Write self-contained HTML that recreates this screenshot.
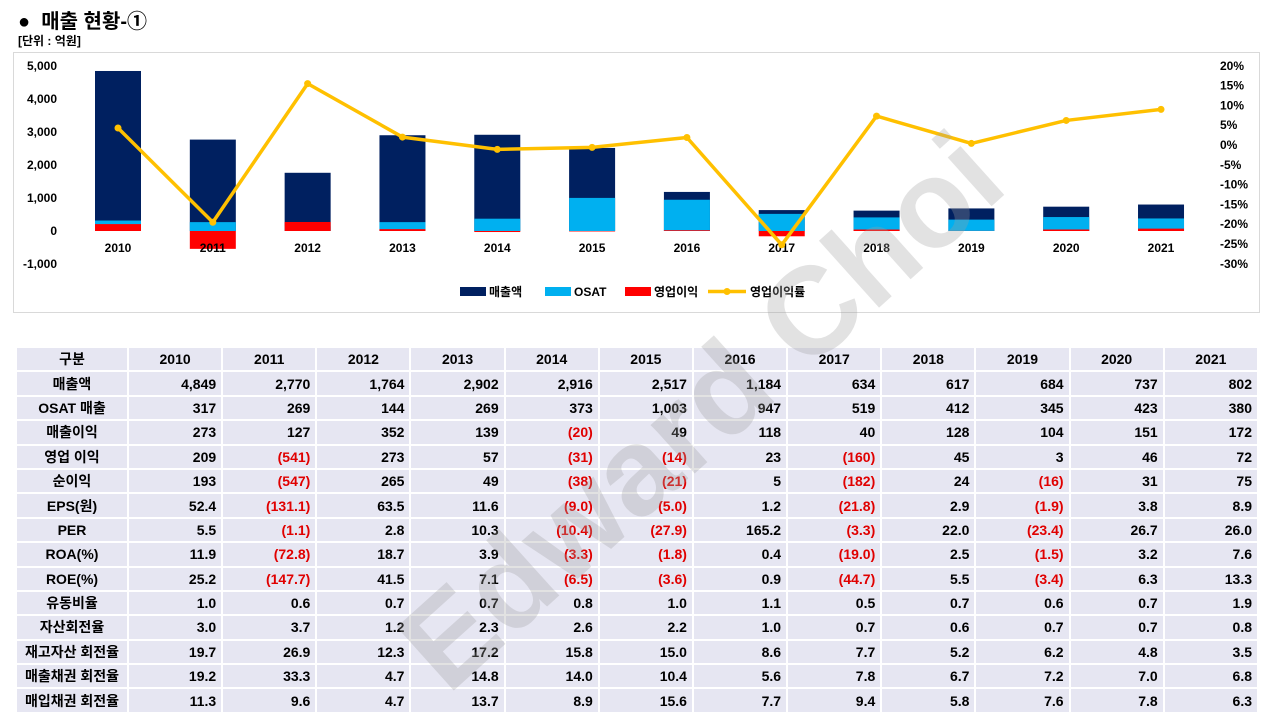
<!DOCTYPE html>
<html><head><meta charset="utf-8"><style>
body{margin:0;width:1280px;height:720px;background:#fff;position:relative;overflow:hidden;font-family:"Liberation Sans","Noto Sans CJK KR",sans-serif;}
#title{position:absolute;left:18px;top:5px;font-size:20px;font-weight:bold;}
#unit{position:absolute;left:18px;top:32px;font-size:12px;font-weight:bold;}
#chart{position:absolute;left:0;top:0;}
table{position:absolute;left:15px;top:346px;border-collapse:collapse;table-layout:fixed;width:1244px;}
td{background:#e6e6f2;border:2px solid #fff;height:22.4px;padding:0 5px;font-size:14px;font-weight:bold;text-align:right;line-height:18px;}
td:first-child{text-align:center;}
tr.h td{text-align:center;}
.n{color:#e00000;}
#wm{position:absolute;left:372px;top:612px;font-size:124px;font-weight:bold;color:rgba(160,160,160,0.3);transform:rotate(-42deg);transform-origin:left top;white-space:nowrap;pointer-events:none;}
</style></head><body>
<div id="title">●&nbsp; 매출 현황-①</div>
<div id="unit">[단위 : 억원]</div>
<svg id="chart" width="1280" height="340">
<rect x="13.5" y="52.5" width="1246" height="260" fill="#fff" stroke="#d9d9d9"/>
<g id="g"></g>
</svg>
<table>
<colgroup><col style="width:112px"></colgroup>
<tbody id="tb"></tbody></table>
<div id="wm">Edward Choi</div>
<script>
const years=[2010,2011,2012,2013,2014,2015,2016,2017,2018,2019,2020,2021];
const sales=[4849,2770,1764,2902,2916,2517,1184,634,617,684,737,802];
const osat=[317,269,144,269,373,1003,947,519,412,345,423,380];
const opInc=[209,-541,273,57,-31,-14,23,-160,45,3,46,72];
const opMargin=[4.3,-19.5,15.5,2.0,-1.1,-0.6,1.9,-25.2,7.3,0.4,6.2,9.0];
const leftTicks=[5000,4000,3000,2000,1000,0,-1000];
const rightTicks=[20,15,10,5,0,-5,-10,-15,-20,-25,-30];
const rows=[
["구분",...years.map(String)],
["매출액","4,849","2,770","1,764","2,902","2,916","2,517","1,184","634","617","684","737","802"],
["OSAT 매출","317","269","144","269","373","1,003","947","519","412","345","423","380"],
["매출이익","273","127","352","139","(20)","49","118","40","128","104","151","172"],
["영업 이익","209","(541)","273","57","(31)","(14)","23","(160)","45","3","46","72"],
["순이익","193","(547)","265","49","(38)","(21)","5","(182)","24","(16)","31","75"],
["EPS(원)","52.4","(131.1)","63.5","11.6","(9.0)","(5.0)","1.2","(21.8)","2.9","(1.9)","3.8","8.9"],
["PER","5.5","(1.1)","2.8","10.3","(10.4)","(27.9)","165.2","(3.3)","22.0","(23.4)","26.7","26.0"],
["ROA(%)","11.9","(72.8)","18.7","3.9","(3.3)","(1.8)","0.4","(19.0)","2.5","(1.5)","3.2","7.6"],
["ROE(%)","25.2","(147.7)","41.5","7.1","(6.5)","(3.6)","0.9","(44.7)","5.5","(3.4)","6.3","13.3"],
["유동비율","1.0","0.6","0.7","0.7","0.8","1.0","1.1","0.5","0.7","0.6","0.7","1.9"],
["자산회전율","3.0","3.7","1.2","2.3","2.6","2.2","1.0","0.7","0.6","0.7","0.7","0.8"],
["재고자산 회전율","19.7","26.9","12.3","17.2","15.8","15.0","8.6","7.7","5.2","6.2","4.8","3.5"],
["매출채권 회전율","19.2","33.3","4.7","14.8","14.0","10.4","5.6","7.8","6.7","7.2","7.0","6.8"],
["매입채권 회전율","11.3","9.6","4.7","13.7","8.9","15.6","7.7","9.4","5.8","7.6","7.8","6.3"]];
const NS="http://www.w3.org/2000/svg";
const g=document.getElementById('g');
const xs=i=>118+i*94.82;
const yL=v=>231-v*0.033;
const yR=p=>145-p*3.96;
function mk(t,a,txt){const e=document.createElementNS(NS,t);for(const k in a)e.setAttribute(k,a[k]);if(txt!==undefined)e.textContent=txt;g.appendChild(e);return e;}
leftTicks.forEach(v=>{const e=mk('text',{x:57,y:yL(v)+4,'text-anchor':'end','font-size':12,'font-weight':'bold'},v.toLocaleString('en-US'));

});
rightTicks.forEach(v=>{const e=mk('text',{x:1220,y:yR(v)+4,'font-size':12,'font-weight':'bold'},v+'%');

});
function bar(v,i,c,n){const y0=yL(0),y1=yL(v);const e=mk('rect',{x:xs(i)-23,y:Math.min(y0,y1),width:46,height:Math.abs(y1-y0),fill:c});

}
years.forEach((y,i)=>{bar(sales[i],i,'#002060','bar-sales-'+y);bar(osat[i],i,'#00b0f0','bar-osat-'+y);bar(opInc[i],i,'#ff0000','bar-op-income-'+y);
const t=mk('text',{x:xs(i),y:252,'text-anchor':'middle','font-size':12,'font-weight':'bold'},y);

});
const pl=mk('polyline',{points:opMargin.map((p,i)=>xs(i)+','+yR(p)).join(' '),fill:'none',stroke:'#ffc000','stroke-width':3.5,'stroke-linejoin':'round'});


opMargin.forEach((p,i)=>{const c=mk('circle',{cx:xs(i),cy:yR(p),r:3.5,fill:'#ffc000'});

});
const leg=[["매출액",'#002060',460],["OSAT",'#00b0f0',545],["영업이익",'#ff0000',625]];
leg.forEach(l=>{const r=mk('rect',{x:l[2],y:287,width:26,height:9,fill:l[1]});


const t=mk('text',{x:l[2]+29,y:296,'font-size':12,'font-weight':'bold'},l[0]);

});
const ll=mk('line',{x1:708,y1:291.5,x2:746,y2:291.5,stroke:'#ffc000','stroke-width':3.5});


mk('circle',{cx:727,cy:291.5,r:3.5,fill:'#ffc000'});
const lt=mk('text',{x:750,y:296,'font-size':12,'font-weight':'bold'},'영업이익률');


const tb=document.getElementById('tb');
rows.forEach((r,ri)=>{const tr=document.createElement('tr');if(ri===0)tr.className='h';


r.forEach((c,ci)=>{const td=document.createElement('td');td.textContent=c;if(c.startsWith('('))td.className='n';


tr.appendChild(td);});tb.appendChild(tr);});
</script>
</body></html>
